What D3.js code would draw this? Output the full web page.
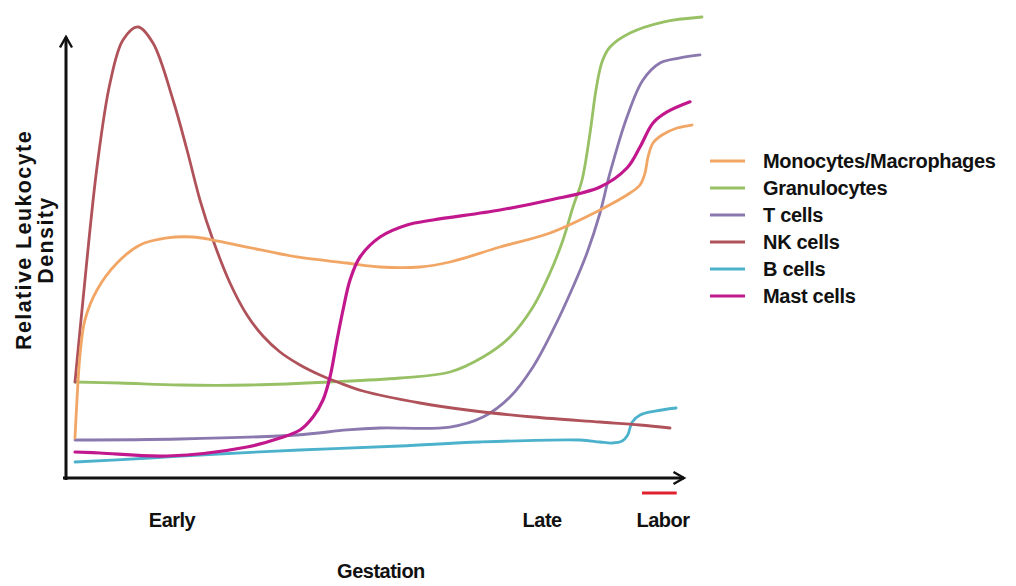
<!DOCTYPE html>
<html>
<head>
<meta charset="utf-8">
<script src="https://cdn.jsdelivr.net/npm/d3@7"></script>
<style>
  html, body { margin: 0; padding: 0; background: #fff; }
  svg text { font-family: "Liberation Sans", Arial, sans-serif; font-weight: bold; fill: #111; }
</style>
</head>
<body>
<svg id="chart" width="1016" height="586"></svg>
<script>
// ---- data (x: gestation progress 0-100, y: relative density 0-100) ----
const seriesNames = ["Monocytes/Macrophages", "Granulocytes", "T cells", "NK cells", "B cells", "Mast cells"];
const seriesColors = ["#f2a665", "#98c065", "#8a78ae", "#b0525a", "#4cb2cc", "#c2188e"];

const monocytes = [[1.45,9.03],[1.77,17.61],[2.26,27.77],[3.06,35.67],[5.0,42.44],[8.23,48.53],[11.94,52.6],[16.29,54.18],[20.48,54.4],[23.71,53.72],[29.19,52.14],[37.26,49.89],[45.32,48.53],[50.65,47.63],[57.1,47.63],[61.94,48.76],[70.0,52.14],[78.06,55.3],[86.13,60.5],[90.97,64.33],[92.58,66.14],[93.39,68.85],[93.87,72.46],[94.68,75.62],[96.13,77.43],[98.55,79.01],[100.97,79.68]];
const granulocytes = [[1.45,21.67],[8.71,21.44],[18.39,20.99],[29.68,20.99],[42.58,21.67],[53.87,22.57],[61.94,23.93],[67.26,27.31],[71.61,31.83],[75.32,38.6],[78.06,46.28],[80.16,53.72],[81.77,61.17],[83.23,67.27],[84.52,77.88],[85.48,87.58],[86.45,93.91],[87.74,97.29],[90.97,100.45],[96.29,102.93],[102.58,104.06]];
const tCells = [[1.45,8.58],[18.39,8.8],[37.26,9.71],[45.32,10.84],[50.65,11.29],[61.94,11.51],[67.26,13.77],[71.61,18.28],[75.32,25.06],[78.55,33.41],[81.77,43.12],[84.03,50.79],[86.13,59.82],[87.74,68.85],[90.48,81.49],[93.06,89.84],[95.81,93.68],[99.03,94.81],[102.26,95.49]];
const nkCells = [[1.45,21.67],[2.74,40.18],[5.0,70.2],[7.1,89.16],[9.19,98.87],[11.61,101.81],[14.03,98.19],[17.26,85.33],[19.52,74.04],[21.61,62.75],[23.71,53.72],[26.45,44.02],[29.19,36.79],[31.77,32.05],[34.52,28.44],[37.74,25.51],[40.97,23.25],[44.19,21.44],[47.9,19.64],[57.1,16.93],[64.68,15.35],[75.32,13.77],[86.13,12.64],[92.58,11.96],[97.42,11.29]];
const bCells = [[1.45,3.61],[13.5,4.51],[21.6,5.19],[37.7,6.32],[53.9,7.22],[66.8,8.13],[82.9,8.58],[86.1,8.13],[88.1,7.9],[89.7,8.35],[90.6,9.71],[91.3,12.6],[92.6,14.2],[95.0,15.1],[98.4,15.8]];
const mastCells = [[1.45,5.87],[5.48,5.64],[16.29,4.97],[29.19,7.0],[34.52,9.03],[37.74,10.84],[39.84,13.77],[41.45,17.61],[42.58,22.8],[43.71,31.15],[44.68,37.92],[45.81,44.7],[47.42,49.89],[50.65,54.4],[55.0,57.11],[59.19,58.24],[70.0,60.5],[78.06,62.75],[86.13,65.69],[90.48,69.98],[92.58,74.72],[94.68,80.14],[96.94,82.62],[100.65,84.92]];

const stageLabels = ["Early", "Late", "Labor"];
const stagePositions = [17.1, 76.8, 96.3];
const laborSpan = [92.9, 98.5];

const xTitle = "Gestation";
const yTitleLines = ["Relative Leukocyte", "Density"];

// ---- drawing ----
const svg = d3.select("#chart");
const x = d3.scaleLinear().domain([0, 100]).range([66, 686]);
const y = d3.scaleLinear().domain([0, 100]).range([478, 35]);

const defs = svg.append("defs");
defs.append("marker")
  .attr("id", "arrow")
  .attr("viewBox", "0 0 10 10")
  .attr("refX", 8).attr("refY", 5)
  .attr("markerWidth", 5).attr("markerHeight", 5)
  .attr("markerUnits", "strokeWidth")
  .attr("orient", "auto")
  .append("path")
  .attr("d", "M1,1 L8,5 L1,9")
  .attr("fill", "none")
  .attr("stroke", "#111")
  .attr("stroke-width", 1.6)
  .attr("stroke-linejoin", "miter");

// axes
svg.append("line")
  .attr("x1", x(0) - 3).attr("y1", y(0))
  .attr("x2", x(100) - 2).attr("y2", y(0))
  .attr("stroke", "#111").attr("stroke-width", 3)
  .attr("marker-end", "url(#arrow)");
svg.append("line")
  .attr("x1", x(0)).attr("y1", y(0) + 2)
  .attr("x2", x(0)).attr("y2", y(100) + 2)
  .attr("stroke", "#111").attr("stroke-width", 3)
  .attr("marker-end", "url(#arrow)");

// series
const allSeries = [monocytes, granulocytes, tCells, nkCells, bCells, mastCells];
const line = d3.line().x(d => x(d[0])).y(d => y(d[1])).curve(d3.curveCatmullRom.alpha(0.5));
// draw order: background first
const drawOrder = [4, 1, 2, 3, 0, 5];
drawOrder.forEach(i => {
  svg.append("path")
    .datum(allSeries[i])
    .attr("d", line)
    .attr("fill", "none")
    .attr("stroke", seriesColors[i])
    .attr("stroke-width", i === 5 ? 3.2 : 2.8)
    .attr("stroke-linecap", "round")
    .attr("stroke-linejoin", "round");
});

// stage labels
svg.selectAll("text.stage")
  .data(stageLabels)
  .enter().append("text")
  .attr("class", "stage")
  .attr("x", (d, i) => x(stagePositions[i]))
  .attr("y", 527)
  .attr("text-anchor", "middle")
  .attr("font-size", 20)
  .attr("letter-spacing", -0.5)
  .text(d => d);

// labor bar
svg.append("line")
  .attr("x1", x(laborSpan[0])).attr("x2", x(laborSpan[1]))
  .attr("y1", 493).attr("y2", 493)
  .attr("stroke", "#e0202e").attr("stroke-width", 3);

// x title
svg.append("text")
  .attr("x", x(50.8)).attr("y", 578)
  .attr("text-anchor", "middle")
  .attr("font-size", 20)
  .attr("letter-spacing", -0.5)
  .text(xTitle);

// y title
yTitleLines.forEach((t, i) => {
  svg.append("text")
    .attr("transform", `translate(${31 + i * 22},240) rotate(-90)`)
    .attr("text-anchor", "middle")
    .attr("font-size", 21.5)
    .attr("letter-spacing", 1.4)
    .text(t);
});

// legend
const legend = svg.append("g").attr("transform", "translate(710,161)");
seriesNames.forEach((name, i) => {
  const g = legend.append("g").attr("transform", `translate(0,${i * 27})`);
  g.append("line")
    .attr("x1", 0).attr("x2", 35).attr("y1", 0).attr("y2", 0)
    .attr("stroke", seriesColors[i]).attr("stroke-width", 3);
  g.append("text")
    .attr("x", 53).attr("y", 7)
    .attr("font-size", 20)
    .attr("letter-spacing", -0.3)
    .text(name);
});
</script>
</body>
</html>
